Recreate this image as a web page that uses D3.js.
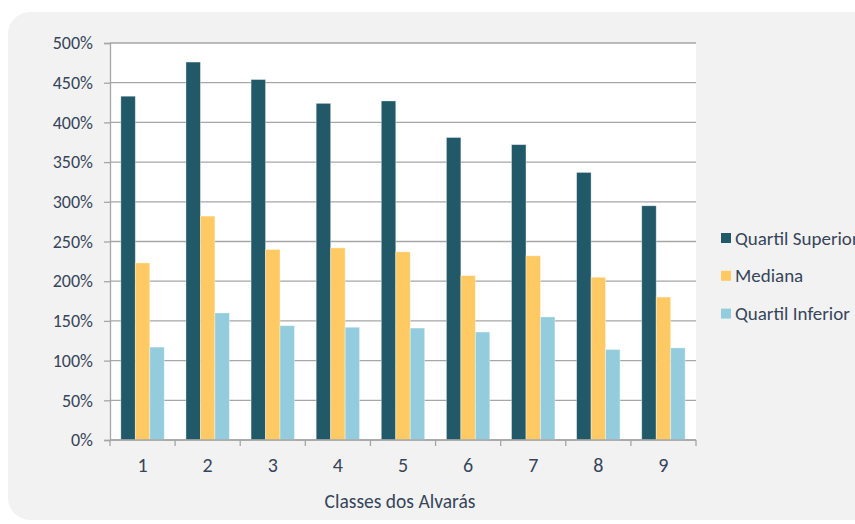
<!DOCTYPE html>
<html>
<head>
<meta charset="utf-8">
<script src="https://cdn.jsdelivr.net/npm/d3@7"></script>
<style>
  html, body { margin: 0; padding: 0; background: #ffffff; }
  svg { display: block; }
  text { font-family: Carlito, Calibri, "Liberation Sans Narrow", "Open Sans", sans-serif; fill: #37455a; }
</style>
</head>
<body>
<svg id="chart" width="855" height="524"></svg>
<script>
// Classes of permits and their percentage statistics
const categories = ["1", "2", "3", "4", "5", "6", "7", "8", "9"];
const seriesNames = ["Quartil Superior", "Mediana", "Quartil Inferior"];
const quartilSuperior = [433, 476, 454, 424, 427, 381, 372, 337, 295];
const mediana = [223, 282, 240, 242, 237, 207, 232, 205, 180];
const quartilInferior = [117, 160, 144, 142, 141, 136, 155, 114, 116];
const yTicks = [0, 50, 100, 150, 200, 250, 300, 350, 400, 450, 500];
const colors = ["#215968", "#ffca63", "#93cddd"];

const series = [quartilSuperior, mediana, quartilInferior];
const FONT = 'Carlito, Calibri, "Liberation Sans Narrow", "Open Sans", sans-serif';

const svg = d3.select("#chart");
const W = 855;
const plot = { left: 110, right: 696, top: 43, bottom: 440 };

// Panel background
svg.append("rect")
  .attr("x", 8).attr("y", 12)
  .attr("width", W + 30).attr("height", 508)
  .attr("rx", 22).attr("ry", 22)
  .attr("fill", "#f2f2f2");

// Plot area
svg.append("rect")
  .attr("x", plot.left).attr("y", plot.top)
  .attr("width", plot.right - plot.left).attr("height", plot.bottom - plot.top)
  .attr("fill", "#ffffff");

const x0 = d3.scaleBand().domain(categories).range([plot.left, plot.right]).paddingInner(0).paddingOuter(0);
const bw = x0.bandwidth();
const x1 = d3.scaleBand().domain(seriesNames).range([bw / 6, bw * 5 / 6]).padding(0);
const y = d3.scaleLinear().domain([0, 500]).range([plot.bottom, plot.top]);

// Horizontal gridlines
svg.append("g").selectAll("line").data(yTicks).join("line")
  .attr("x1", plot.left).attr("x2", plot.right)
  .attr("y1", d => y(d)).attr("y2", d => y(d))
  .attr("stroke", "#a6a6a6").attr("stroke-width", 1.3);

// Bars
const groups = svg.append("g").selectAll("g").data(categories).join("g")
  .attr("transform", c => `translate(${x0(c)},0)`);
groups.selectAll("rect")
  .data((c, i) => seriesNames.map((s, k) => ({ s, k, v: series[k][i] })))
  .join("rect")
  .attr("x", d => x1(d.s))
  .attr("width", x1.bandwidth())
  .attr("y", d => y(d.v))
  .attr("height", d => y(0) - y(d.v))
  .attr("fill", d => colors[d.k])
  .attr("stroke", "#ffffff").attr("stroke-opacity", 0.45).attr("stroke-width", 0.8);

// Y axis
const yAxis = d3.axisLeft(y).tickValues(yTicks).tickFormat(d => d + "%").tickSize(6).tickPadding(11);
const gy = svg.append("g").attr("transform", `translate(${plot.left},0)`).call(yAxis);
gy.select(".domain").attr("stroke", "#a6a6a6").attr("stroke-width", 1.3);
gy.selectAll(".tick line").attr("stroke", "#a6a6a6").attr("stroke-width", 1.3);
gy.selectAll(".tick text").attr("font-size", 18).attr("font-family", FONT).style("fill", "#37455a");

// X axis line and category separators
svg.append("line")
  .attr("x1", plot.left).attr("x2", plot.right)
  .attr("y1", plot.bottom).attr("y2", plot.bottom)
  .attr("stroke", "#a6a6a6").attr("stroke-width", 1.3);
const bounds = categories.map(c => x0(c)).concat([plot.right]);
svg.append("g").selectAll("line").data(bounds).join("line")
  .attr("x1", d => d).attr("x2", d => d)
  .attr("y1", plot.bottom).attr("y2", plot.bottom + 6)
  .attr("stroke", "#a6a6a6").attr("stroke-width", 1.3);
svg.append("g").selectAll("text").data(categories).join("text")
  .attr("x", c => x0(c) + bw / 2)
  .attr("y", 472)
  .attr("text-anchor", "middle")
  .attr("font-size", 20)
  .text(c => c);

// Axis title
svg.append("text")
  .attr("x", (plot.left + plot.right) / 2 - 3)
  .attr("y", 508)
  .attr("text-anchor", "middle")
  .attr("font-size", 19.5)
  .text("Classes dos Alvarás");

// Legend
const legend = svg.append("g").selectAll("g").data(seriesNames).join("g")
  .attr("transform", (d, i) => `translate(721,${238 + i * 37.8})`);
legend.append("rect")
  .attr("x", 0).attr("y", -5).attr("width", 10).attr("height", 10)
  .attr("fill", (d, i) => colors[i]);
legend.append("text")
  .attr("x", 14).attr("y", 0).attr("dy", "0.35em")
  .attr("font-size", 19)
  .text(d => d);
</script>
</body>
</html>
